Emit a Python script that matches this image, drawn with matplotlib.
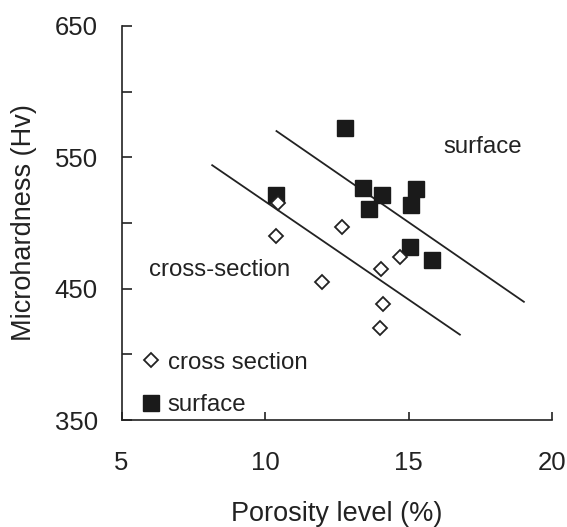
import matplotlib
matplotlib.use("Agg")
import matplotlib.pyplot as plt

plt.rcParams['font.family'] = ['Liberation Sans', 'DejaVu Sans']

# cross section (open diamonds)
cross_x = [10.45, 10.40, 12.70, 12.00, 14.03, 14.70, 14.11, 14.02]
cross_y = [515, 490, 497, 455, 465, 474, 438, 420]

# surface (filled squares)
surf_x = [12.78, 10.40, 13.42, 14.09, 13.63, 15.25, 15.10, 15.05, 15.82]
surf_y = [572, 521, 527, 521, 511, 526, 514, 482, 472]

# trend lines (end points)
cross_line_x = [8.16, 16.79]
cross_line_y = [544, 415]
surf_line_x = [10.40, 19.02]
surf_line_y = [570, 440]

xticks = [5, 10, 15, 20]
yticks = [350, 400, 450, 500, 550, 600, 650]
yticklabels = ['350', '', '450', '', '550', '', '650']

ink = '#222222'

fig = plt.figure(figsize=(5.67, 5.27), dpi=100)
ax = fig.add_axes([121.5 / 567, 107 / 527, 430.5 / 567, 394 / 527])

ax.plot(cross_line_x, cross_line_y, color=ink, lw=1.3)
ax.plot(surf_line_x, surf_line_y, color=ink, lw=1.3)

ax.plot(surf_x, surf_y, 's', ms=11.5, color='#1a1a1a', mec='#1a1a1a',
        label='surface', zorder=3)
ax.plot(cross_x, cross_y, 'D', ms=7.4, mfc='white', mec=ink, mew=1.3,
        label='cross section', zorder=4)

ax.set_xlim(5, 20)
ax.set_ylim(350, 650)
ax.set_xticks(xticks)
ax.set_yticks(yticks)
ax.set_yticklabels(yticklabels)

for s in ['top', 'right']:
    ax.spines[s].set_visible(False)
for s in ['left', 'bottom']:
    ax.spines[s].set_linewidth(1.2)
    ax.spines[s].set_color(ink)

ax.tick_params(axis='x', direction='in', length=6, width=1.2, pad=22,
               labelsize=18.5, colors=ink)
ax.tick_params(axis='y', direction='in', length=7.5, width=1.2, pad=17,
               labelsize=18.5, colors=ink)

ax.set_xlabel('Porosity level (%)', fontsize=19.5, color=ink)
ax.set_ylabel('Microhardness (Hv)', fontsize=19.5, color=ink)
ax.xaxis.set_label_coords(0.5, -0.205)
ax.yaxis.set_label_coords(-0.196, 0.5)

ax.text(5.96, 460, 'cross-section', fontsize=17.3, color=ink)
ax.text(16.21, 553, 'surface', fontsize=17.3, color=ink)

h, l = ax.get_legend_handles_labels()
ax.legend(h[::-1], l[::-1], loc='lower left', bbox_to_anchor=(0.04, 0.01),
          frameon=False, fontsize=17.3, handlelength=1.0, handletextpad=0.2,
          borderpad=0, borderaxespad=0, labelspacing=0.85, labelcolor=ink)

fig.savefig('out.png', dpi=100)
